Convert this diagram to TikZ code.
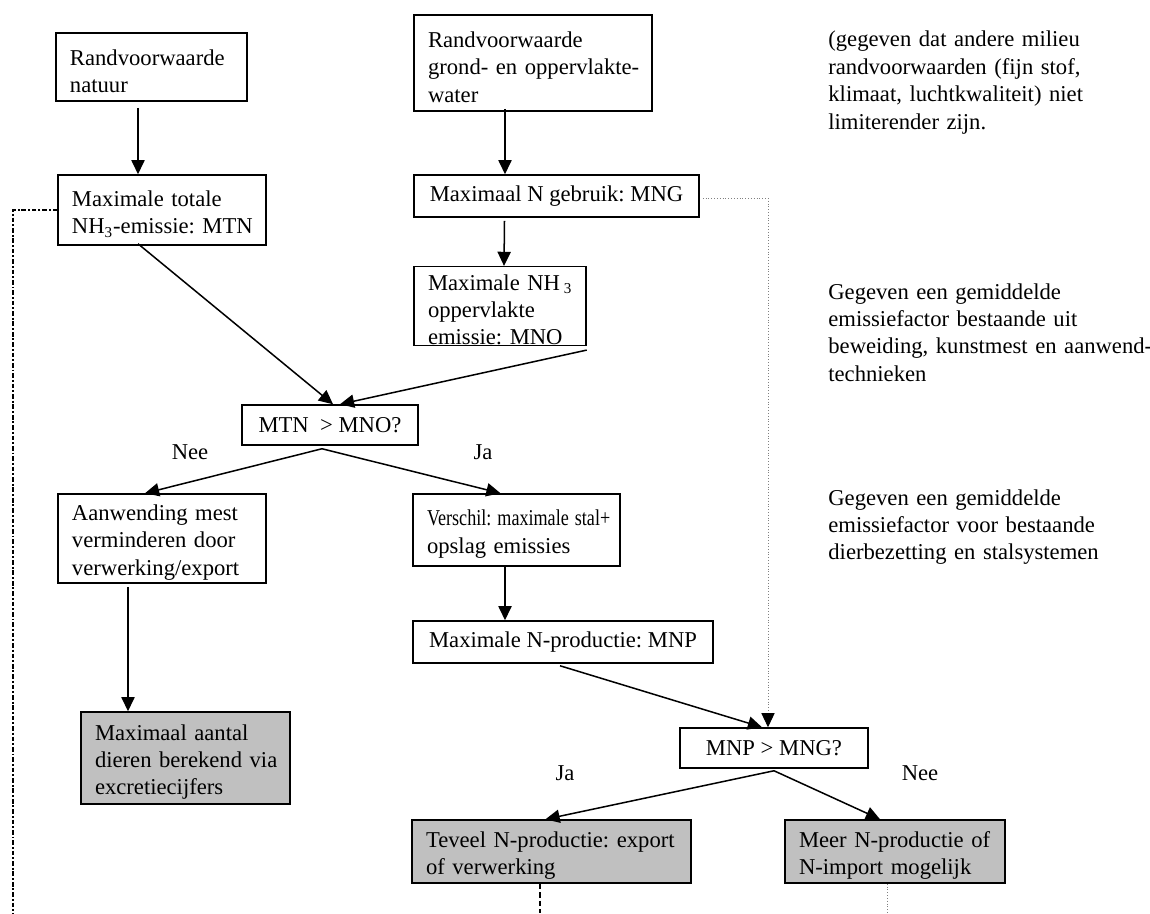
\documentclass[tikz,border=0pt]{standalone}
\usepackage{fontspec}
\setmainfont{Liberation Serif}
\usetikzlibrary{arrows.meta}
\definecolor{grijs}{HTML}{C0C0C0}

\begin{document}
\frenchspacing
\begin{tikzpicture}[x=0.53pt, y=-0.53pt, font=\fontsize{12}{14.5}\selectfont,
		kader/.style={draw, line width=0.8pt, inner xsep=0pt, inner ysep=0pt},
		box/.code 2 args={\pgfmathsetlengthmacro\bw{#1*0.53pt}\pgfmathsetlengthmacro\bh{#2*0.53pt}%
			\tikzset{kader, align=left, minimum width=\bw, text width=\bw, minimum height=\bh,
				execute at begin node={\leftskip=7.42pt\rightskip=-4pt plus 1fil\hyphenpenalty=10000\exhyphenpenalty=10000\rule{0pt}{12.5pt}}}},
		rij/.code 2 args={\pgfmathsetlengthmacro\bw{#1*0.53pt}\pgfmathsetlengthmacro\bh{#2*0.53pt}%
			\tikzset{kader, align=center, minimum width=\bw, minimum height=\bh}},
		eind/.style={fill=grijs},
		pijl/.style={line width=0.8pt, -{Triangle[length=7.5pt,width=7pt]}},
		streepstip/.style={line width=1.3pt, dash pattern=on 2.5pt off 1pt on 1pt off 1pt},
		streep/.style={line width=1.3pt, dash pattern=on 3pt off 1.5pt},
		stippel/.style={gray, line width=0.5pt, densely dotted},
		tekst/.style={align=left, inner sep=0pt, text width=185pt, anchor=base west}]
	
	\useasboundingbox (0,0) rectangle (1150,913);
	
	\node[box={191}{68}] (natuur) at (151.5,67) {Randvoorwaarde\\natuur};
	\node[box={238}{96}] (water) at (533,63) {Randvoorwaarde\\grond- en oppervlakte-\\water};
	\node[box={208}{70}] (mtn) at (162,210) {Maximale totale\\NH\textsubscript{3}-emissie: MTN};
	\node[rij={285}{42}] (mng) at (556.5,196) {Maximaal N gebruik: MNG};
	\node[box={172}{78}] (mno) at (500,306) {Maximale NH\,\textsubscript{3}\\oppervlakte\\emissie: MNO};
	\node[rij={176}{40}] (vraag1) at (330,425) {MTN\ \ > MNO?};
	\node[box={208}{89}] (aanw) at (162,538.5) {Aanwending mest\\verminderen door\\verwerking/export};
	\node[box={207}{72}] (verschil) at (516.5,530) {\scalebox{0.8}[1]{Verschil: maximale stal+}\\opslag emissies};
	\node[rij={300}{42}] (mnp) at (563,642) {Maximale N-productie: MNP};
	\node[box={209}{92}, eind] (dieren) at (185.5,758) {Maximaal aantal\\dieren berekend via\\excretiecijfers};
	\node[rij={188}{40}] (vraag2) at (774,748) {MNP > MNG?};
	\node[box={279}{63}, eind] (teveel) at (551.5,851.5) {Teveel N-productie: export\\of verwerking};
	\node[box={220}{63}, eind] (meer) at (895,851.5) {Meer N-productie of\\N-import mogelijk};
	
	\node[tekst] (opm1) at (828,47) {(gegeven dat andere milieu\\randvoorwaarden (fijn stof,\\klimaat, luchtkwaliteit) niet\\limiterender zijn.};
	\node[tekst] (opm2) at (828,299) {Gegeven een gemiddelde\\emissiefactor bestaande uit\\beweiding, kunstmest en aanwend-\\technieken};
	\node[tekst] (opm3) at (828,505) {Gegeven een gemiddelde\\emissiefactor voor bestaande\\dierbezetting en stalsystemen};
	
	\node (nee1) at (190,452) {Nee};
	\node (ja1) at (483,452) {Ja};
	\node (ja2) at (565,773) {Ja};
	\node (nee2) at (920,773) {Nee};
	
	\coordinate (linksonder) at (13,913);
	\coordinate (midonder) at (540,913);
	\coordinate (rechtsonder) at (887,913);
	
	\draw[pijl] ([shift={(-13.5,6)}]natuur.south) to ([shift={(-24,0)}]mtn.north);
	\draw[pijl] ([shift={(-28,-3)}]water.south) to ([shift={(-51.5,0)}]mng.north);
	\draw[pijl] ([shift={(-52,3)}]mng.south) to ([shift={(4,0)}]mno.north);
	\draw[pijl] ([shift={(-24,-2)}]mtn.south) to ([shift={(3,0)}]vraag1.north);
	\draw[pijl] ([shift={(0,4)}]mno.south east) to ([shift={(10,0)}]vraag1.north);
	\draw[pijl] ([shift={(-8,3)}]vraag1.south) to ([shift={(-17,0)}]aanw.north);
	\draw[pijl] ([shift={(-8,3)}]vraag1.south) to ([shift={(-16,0)}]verschil.north);
	\draw[pijl] ([shift={(-34,3)}]aanw.south) to ([shift={(-57.5,0)}]dieren.north);
	\draw[pijl] ([shift={(-11.5,0)}]verschil.south) to ([shift={(-58,0)}]mnp.north);
	\draw[pijl] ([shift={(-3,2)}]mnp.south) to ([shift={(-12,0)}]vraag2.north);
	\draw[pijl] ([shift={(0,2)}]vraag2.south) to ([shift={(-6,0)}]teveel.north);
	\draw[pijl] ([shift={(0,2)}]vraag2.south) to ([shift={(-15,0)}]meer.north);
	
	\draw[stippel, -{Triangle[length=7.5pt,width=7pt,color=black]}] ([shift={(3,2)}]mng.east) -| ([shift={(-6,0)}]vraag2.north);
	\draw[streepstip] (mtn.west) -| (linksonder);
	\draw[streep] (teveel.south -| midonder) to (midonder);
	\draw[stippel] (meer.south -| rechtsonder) to (rechtsonder);
	
\end{tikzpicture}
\end{document}
